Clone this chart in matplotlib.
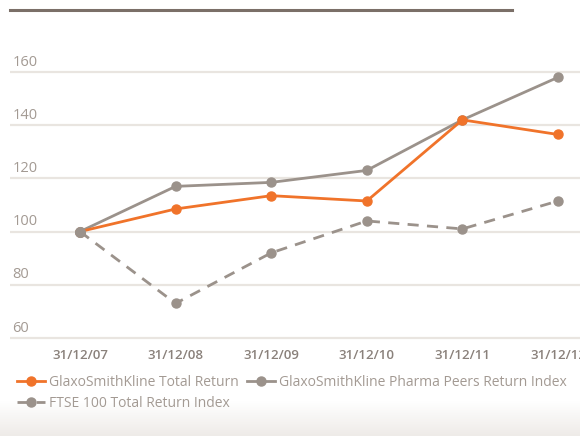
import numpy as np
import matplotlib.pyplot as plt
from matplotlib.lines import Line2D

# Data
dates = ["31/12/07", "31/12/08", "31/12/09", "31/12/10", "31/12/11", "31/12/12"]
gsk_total = [100, 108.5, 113.5, 111.5, 142, 136.5]
pharma_peers = [100, 117, 118.5, 123, 142, 158]
ftse_total = [100, 73, 92, 104, 101, 111.5]
y_ticks = [60, 80, 100, 120, 140, 160]

orange = "#f0732a"
grey = "#9b928b"
text_grey = "#a39a93"

plt.rcParams["font.family"] = ["Open Sans", "DejaVu Sans"]

fig = plt.figure(figsize=(5.8, 4.36), dpi=100)

# subtle shading at the bottom of the panel
bg = fig.add_axes([0, 0, 1, 0.08], zorder=-1)
grad = np.linspace(0, 1, 50).reshape(-1, 1)
bg.imshow(grad, aspect="auto", cmap=plt.cm.colors.LinearSegmentedColormap.from_list("g", ["#eeebe8", "#ffffff"]),
          extent=[0, 1, 0, 1], origin="lower")
bg.axis("off")

ax = fig.add_axes([10 / 580, 0.2126, 1 - 10 / 580, 0.6528])
x = np.arange(len(dates))

ax.plot(x, ftse_total, color=grey, lw=2, ls=(0, (4, 3)), marker="o", ms=6.5, zorder=3,
        label="FTSE 100 Total Return Index")
ax.plot(x, pharma_peers, color=grey, lw=2, marker="o", ms=6.5, zorder=4,
        label="GlaxoSmithKline Pharma Peers Return Index")
ax.plot(x, gsk_total, color=orange, lw=2, marker="o", ms=6.5, zorder=5,
        label="GlaxoSmithKline Total Return")
# redraw the 2007 start point in grey on top
ax.plot(x[:1], pharma_peers[:1], color=grey, marker="o", ms=7, ls="none", zorder=6)

ax.set_xlim(-0.732, 5.23)
ax.set_ylim(58, 165)

for yv in y_ticks:
    ax.axhline(yv, color="#e9e5e0", lw=1.6, zorder=1)
    ax.text(0.004, yv + 0.9, str(yv), transform=ax.get_yaxis_transform(),
            color=text_grey, fontsize=10.5, ha="left", va="bottom")

ax.set_yticks([])
ax.set_xticks(x)
ax.set_xticklabels(dates, color="#8a817b", fontsize=9.5, fontweight="semibold")
ax.tick_params(axis="x", length=0, pad=4)
for s in ax.spines.values():
    s.set_visible(False)

# top rule
fig.add_artist(Line2D([10 / 580, 512 / 580], [1 - 10 / 436, 1 - 10 / 436],
                      color="#7b6f68", lw=2.2, transform=fig.transFigure))

h, l = ax.get_legend_handles_labels()
order = [2, 0, 1]
leg = fig.legend([h[i] for i in order], [l[i] for i in order], ncol=2,
                 loc="upper left", bbox_to_anchor=(0.03, 0.140), frameon=False,
                 fontsize=10, handlelength=2.0, handletextpad=0.3, columnspacing=0.6,
                 labelspacing=0.45, borderaxespad=0, borderpad=0)
for t in leg.get_texts():
    t.set_color(text_grey)

fig.savefig("out.png", dpi=100)
